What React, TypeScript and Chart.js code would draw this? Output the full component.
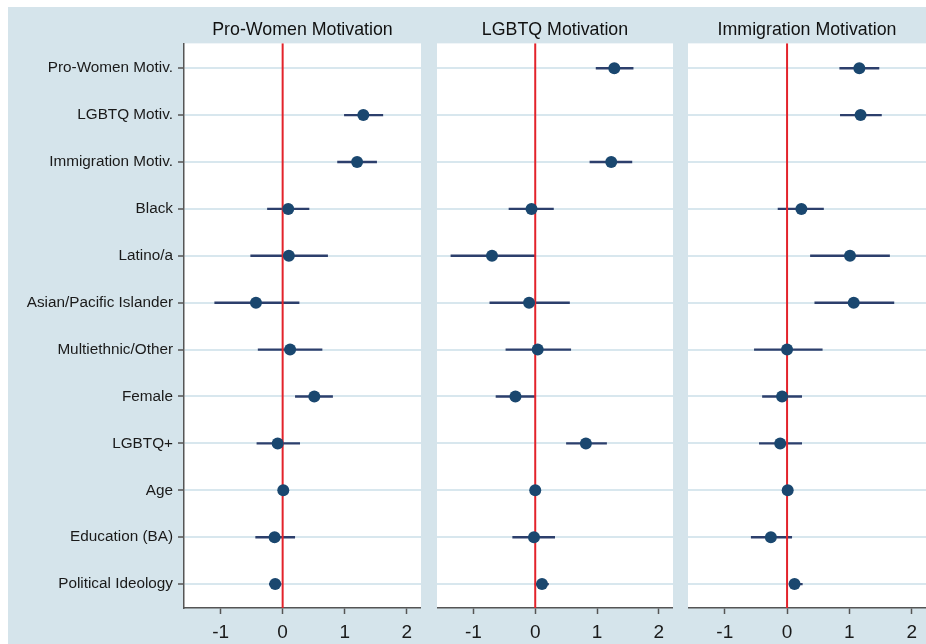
import React, { useEffect, useRef } from "react";
import { Chart, registerables } from "chart.js";

Chart.register(...registerables);

const categories = [
  "Pro-Women Motiv.",
  "LGBTQ Motiv.",
  "Immigration Motiv.",
  "Black",
  "Latino/a",
  "Asian/Pacific Islander",
  "Multiethnic/Other",
  "Female",
  "LGBTQ+",
  "Age",
  "Education (BA)",
  "Political Ideology",
];
const panelTitles = ["Pro-Women Motivation", "LGBTQ Motivation", "Immigration Motivation"];
const xTicks = [-1, 0, 1, 2];

// Panel 1: Pro-Women Motivation
const proWomenEst = [null, 1.3, 1.2, 0.09, 0.1, -0.43, 0.12, 0.51, -0.08, 0.01, -0.13, -0.12];
const proWomenLo = [null, 0.99, 0.88, -0.25, -0.52, -1.1, -0.4, 0.2, -0.42, -0.01, -0.44, -0.22];
const proWomenHi = [null, 1.62, 1.52, 0.43, 0.73, 0.27, 0.64, 0.81, 0.28, 0.03, 0.2, -0.02];

// Panel 2: LGBTQ Motivation
const lgbtqEst = [1.28, null, 1.23, -0.06, -0.7, -0.1, 0.04, -0.32, 0.82, 0.0, -0.02, 0.11];
const lgbtqLo = [0.98, null, 0.88, -0.43, -1.37, -0.74, -0.48, -0.64, 0.5, -0.02, -0.37, -0.01];
const lgbtqHi = [1.59, null, 1.57, 0.3, 0.0, 0.56, 0.58, 0.0, 1.16, 0.02, 0.32, 0.22];

// Panel 3: Immigration Motivation
const immigEst = [1.16, 1.18, null, 0.23, 1.01, 1.07, 0.0, -0.08, -0.11, 0.01, -0.26, 0.12];
const immigLo = [0.84, 0.85, null, -0.15, 0.37, 0.44, -0.53, -0.4, -0.45, -0.01, -0.58, 0.03];
const immigHi = [1.48, 1.52, null, 0.59, 1.65, 1.72, 0.57, 0.24, 0.24, 0.03, 0.08, 0.25];

const X_MIN = -1.59;
const X_MAX = 2.23;
const Y_MIN = -0.53;
const Y_MAX = 11.51;

const BG = "rgb(213,228,235)";
const GRID = "rgb(216,231,238)";
const MARKER = "#1a476f";
const CI = "#2c3f6c";
const RED = "#e3232b";
const AXIS = "#555555";
const FONT = "'Liberation Sans', Arial, Helvetica, sans-serif";

const whiteArea = {
  id: "whiteArea",
  beforeDraw(chart: any) {
    const { ctx, chartArea } = chart;
    ctx.save();
    ctx.fillStyle = "#ffffff";
    ctx.fillRect(chartArea.left, chartArea.top, chartArea.right - chartArea.left, chartArea.bottom - chartArea.top);
    ctx.restore();
  },
};

function buildChart(
  canvas: HTMLCanvasElement,
  title: string,
  est: (number | null)[],
  lo: (number | null)[],
  hi: (number | null)[],
  showLabels: boolean
) {
  const ciSets: any[] = [];
  est.forEach((e, i) => {
    if (e === null) return;
    ciSets.push({
      type: "scatter",
      data: [
        { x: lo[i], y: i },
        { x: hi[i], y: i },
      ],
      showLine: true,
      borderColor: CI,
      borderWidth: 2.4,
      pointRadius: 0,
      order: 2,
    });
  });
  const points = est
    .map((e, i) => (e === null ? null : { x: e, y: i }))
    .filter((p) => p !== null);

  return new Chart(canvas, {
    type: "scatter",
    data: {
      datasets: [
        ...ciSets,
        {
          type: "scatter",
          data: [
            { x: 0, y: Y_MIN },
            { x: 0, y: Y_MAX },
          ],
          showLine: true,
          borderColor: RED,
          borderWidth: 2,
          pointRadius: 0,
          order: 1,
        },
        {
          type: "scatter",
          data: points as any,
          pointRadius: 6,
          pointBackgroundColor: MARKER,
          pointBorderColor: MARKER,
          pointBorderWidth: 0,
          order: 0,
        },
      ],
    },
    options: {
      animation: false,
      responsive: false,
      devicePixelRatio: 1,
      layout: { padding: 0, autoPadding: false },
      plugins: {
        legend: { display: false },
        tooltip: { enabled: false },
        title: {
          display: true,
          text: title,
          fullSize: false,
          color: "#111111",
          font: { family: FONT, size: 17.8, weight: "normal" },
          padding: { top: 12, bottom: 3 },
        },
      },
      scales: {
        x: {
          type: "linear",
          min: X_MIN,
          max: X_MAX,
          afterBuildTicks: (s: any) => {
            s.ticks = xTicks.map((v) => ({ value: v }));
          },
          afterFit: (s: any) => {
            s.height = 36;
          },
          grid: {
            drawOnChartArea: false,
            drawTicks: true,
            tickLength: 6,
            tickColor: AXIS,
            tickWidth: 1.5,
          },
          border: { display: true, color: AXIS, width: 1.5 },
          ticks: {
            color: "#1a1a1a",
            font: { family: FONT, size: 19 },
            padding: 7,
            maxRotation: 0,
            autoSkip: false,
          },
        },
        y: {
          type: "linear",
          reverse: true,
          min: Y_MIN,
          max: Y_MAX,
          afterBuildTicks: (s: any) => {
            s.ticks = categories.map((_, i) => ({ value: i }));
          },
          afterFit: (s: any) => {
            s.width = showLabels ? 176 : 0;
          },
          grid: {
            color: GRID,
            lineWidth: 2,
            drawTicks: showLabels,
            tickLength: 6,
            tickColor: AXIS,
            tickWidth: 1.5,
          },
          border: { display: showLabels, color: AXIS, width: 1.5 },
          ticks: {
            display: showLabels,
            color: "#1a1a1a",
            font: { family: FONT, size: 15.3 },
            padding: 5,
            autoSkip: false,
            callback: (v: any) => categories[Math.round(Number(v))] ?? "",
          },
        },
      },
    },
    plugins: [whiteArea],
  } as any);
}

function Panel(props: {
  left: number;
  width: number;
  title: string;
  est: (number | null)[];
  lo: (number | null)[];
  hi: (number | null)[];
  showLabels: boolean;
}) {
  const ref = useRef<HTMLCanvasElement | null>(null);
  useEffect(() => {
    if (!ref.current) return;
    const c = buildChart(ref.current, props.title, props.est, props.lo, props.hi, props.showLabels);
    return () => c.destroy();
  }, []);
  return (
    <canvas
      ref={ref}
      width={props.width}
      height={637}
      style={{ position: "absolute", left: props.left, top: 0, width: props.width, height: 637 }}
    />
  );
}

export default function App() {
  return (
    <div
      style={{
        position: "fixed",
        left: 8,
        top: 7,
        width: 918,
        height: 637,
        background: BG,
        overflow: "hidden",
      }}
    >
      <Panel left={0} width={413} title={panelTitles[0]} est={proWomenEst} lo={proWomenLo} hi={proWomenHi} showLabels={true} />
      <Panel left={429} width={236} title={panelTitles[1]} est={lgbtqEst} lo={lgbtqLo} hi={lgbtqHi} showLabels={false} />
      <Panel left={680} width={238} title={panelTitles[2]} est={immigEst} lo={immigLo} hi={immigHi} showLabels={false} />
    </div>
  );
}
